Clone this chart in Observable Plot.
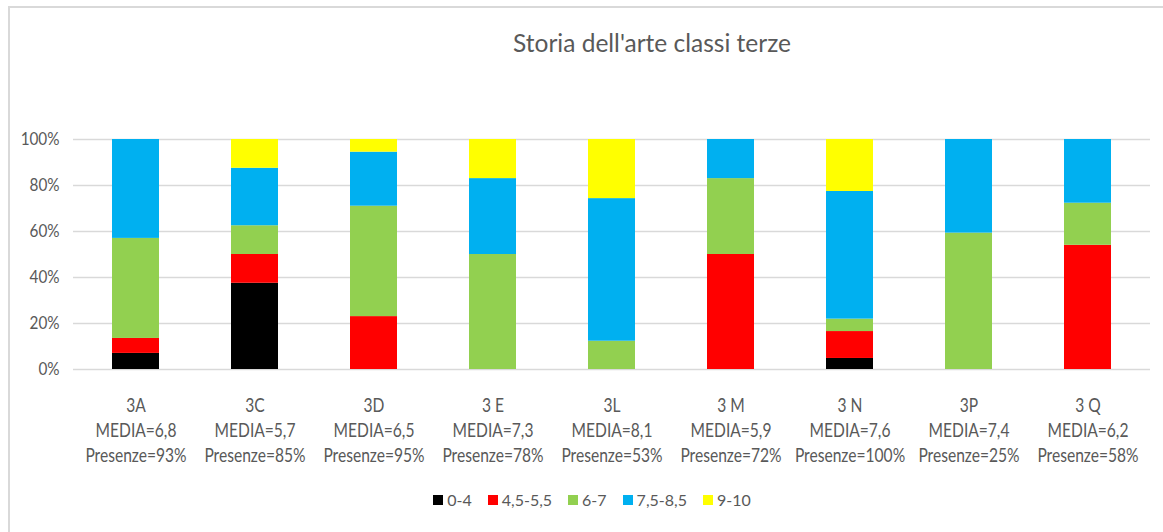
<!DOCTYPE html>
<html>
<head>
<meta charset="utf-8">
<script src="https://cdn.jsdelivr.net/npm/d3@7"></script>
<script src="https://cdn.jsdelivr.net/npm/@observablehq/plot@0.6"></script>
<style>
  html, body { margin: 0; padding: 0; background: #fff; width: 1163px; height: 532px; overflow: hidden; position: relative; font-family: Lato, "Open Sans", sans-serif; }
  #frame { position: absolute; left: 8px; top: 6px; width: 1200px; height: 600px; border: 2px solid #d9d9d9; box-sizing: border-box; }
  #title { position: absolute; left: 0; top: 28px; width: 1304px; text-align: center; font-size: 24.5px; line-height: 30px; color: #595959; font-weight: 400; }
  #chart { position: absolute; left: 0; top: 110px; }
  #legend { position: absolute; left: 0; top: 490px; width: 1184px; display: flex; justify-content: center; gap: 16px; font-size: 16px; line-height: 20px; color: #595959; }
  #legend .item { display: flex; align-items: center; }
  #legend .sw { display: inline-block; width: 10px; height: 10px; margin-right: 4px; }
</style>
</head>
<body>
<div id="frame"></div>
<div id="title">Storia dell'arte classi terze</div>
<div id="chart"></div>
<div id="legend"></div>
<script>
const classi = ["3A", "3C", "3D", "3 E", "3L", "3 M", "3 N", "3P", "3 Q"];
const media = ["6,8", "5,7", "6,5", "7,3", "8,1", "5,9", "7,6", "7,4", "6,2"];
const presenze = ["93%", "85%", "95%", "78%", "53%", "72%", "100%", "25%", "58%"];

const fasce = ["0-4", "4,5-5,5", "6-7", "7,5-8,5", "9-10"];
const colori = ["#000000", "#FF0000", "#92D050", "#00B0F0", "#FFFF00"];

const v0_4    = [7,    37.5, 0,    0,  0,    0,  4.8,  0,    0];
const v45_55  = [6.5,  12.5, 23,   0,  0,    50, 11.7, 0,    54];
const v6_7    = [43.5, 12.5, 48,   50, 12.3, 33, 5.4,  59.3, 18.3];
const v75_85  = [43,   25,   23.5, 33, 62,   17, 55.5, 40.7, 27.7];
const v9_10   = [0,    12.5, 5.5,  17, 25.7, 0,  22.6, 0,    0];

const yTicks = [0, 20, 40, 60, 80, 100];

const serie = [v0_4, v45_55, v6_7, v75_85, v9_10];
const rows = [];
serie.forEach((vals, si) => vals.forEach((v, ci) => rows.push({classe: classi[ci], fascia: fasce[si], valore: v})));

const labelOf = new Map(classi.map((c, i) => [c, `${c}\nMEDIA=${media[i]}\nPresenze=${presenze[i]}`]));

const chart = Plot.plot({
  width: 1163,
  height: 356,
  marginTop: 29,
  marginLeft: 73,
  marginRight: 13,
  marginBottom: 97,
  style: { fontFamily: "Lato, 'Open Sans', sans-serif", fontSize: "16px", color: "#595959", background: "transparent" },
  x: { domain: classi, paddingInner: 0.607, paddingOuter: 0.3035, label: null },
  y: { domain: [0, 100], ticks: yTicks, label: null },
  color: { domain: fasce, range: colori },
  marks: [
    Plot.gridY({ ticks: yTicks, stroke: "#d9d9d9", strokeOpacity: 1, strokeWidth: 1.5 }),
    Plot.barY(rows, { x: "classe", y: "valore", fill: "fascia", order: fasce }),
    Plot.axisY({ ticks: yTicks, tickSize: 0, tickPadding: 14, tickFormat: d => d + "%", fontSize: 18, fill: "#595959", label: null }),
    Plot.axisX({ tickSize: 0, tickPadding: 25, tickFormat: d => labelOf.get(d), fontSize: 19.5, lineHeight: 1.28, fill: "#595959", label: null })
  ]
});
document.getElementById("chart").appendChild(chart);

// Narrow the x tick labels horizontally, as in the reference (tall, condensed glyphs)
function condense(el, f) {
  let t = el.getAttribute("transform") || "";
  const x = el.getAttribute("x"), y = el.getAttribute("y");
  if (x !== null || y !== null) {
    t += ` translate(${x || 0},${y || 0})`;
    el.removeAttribute("x"); el.removeAttribute("y");
  }
  el.setAttribute("transform", `${t} scale(${f},1)`.trim());
}
let yGroup = null;
chart.querySelectorAll("text").forEach(el => {
  const s = el.textContent;
  if (s.includes("MEDIA")) condense(el, 0.8);
  else if (/^\d+%$/.test(s.trim())) yGroup = el.parentNode;
});
// Narrow the y tick labels as a group, pivoting on their right edge
if (yGroup) {
  const bb = yGroup.getBBox();
  const pivot = bb.x + bb.width;
  const t = yGroup.getAttribute("transform") || "";
  yGroup.setAttribute("transform", `${t} translate(${pivot},0) scale(0.85,1) translate(${-pivot},0)`.trim());
}

const legend = document.getElementById("legend");
fasce.forEach((f, i) => {
  const item = document.createElement("span");
  item.className = "item";
  const sw = document.createElement("span");
  sw.className = "sw";
  sw.style.background = colori[i];
  item.appendChild(sw);
  item.appendChild(document.createTextNode(f));
  legend.appendChild(item);
});
</script>
</body>
</html>
